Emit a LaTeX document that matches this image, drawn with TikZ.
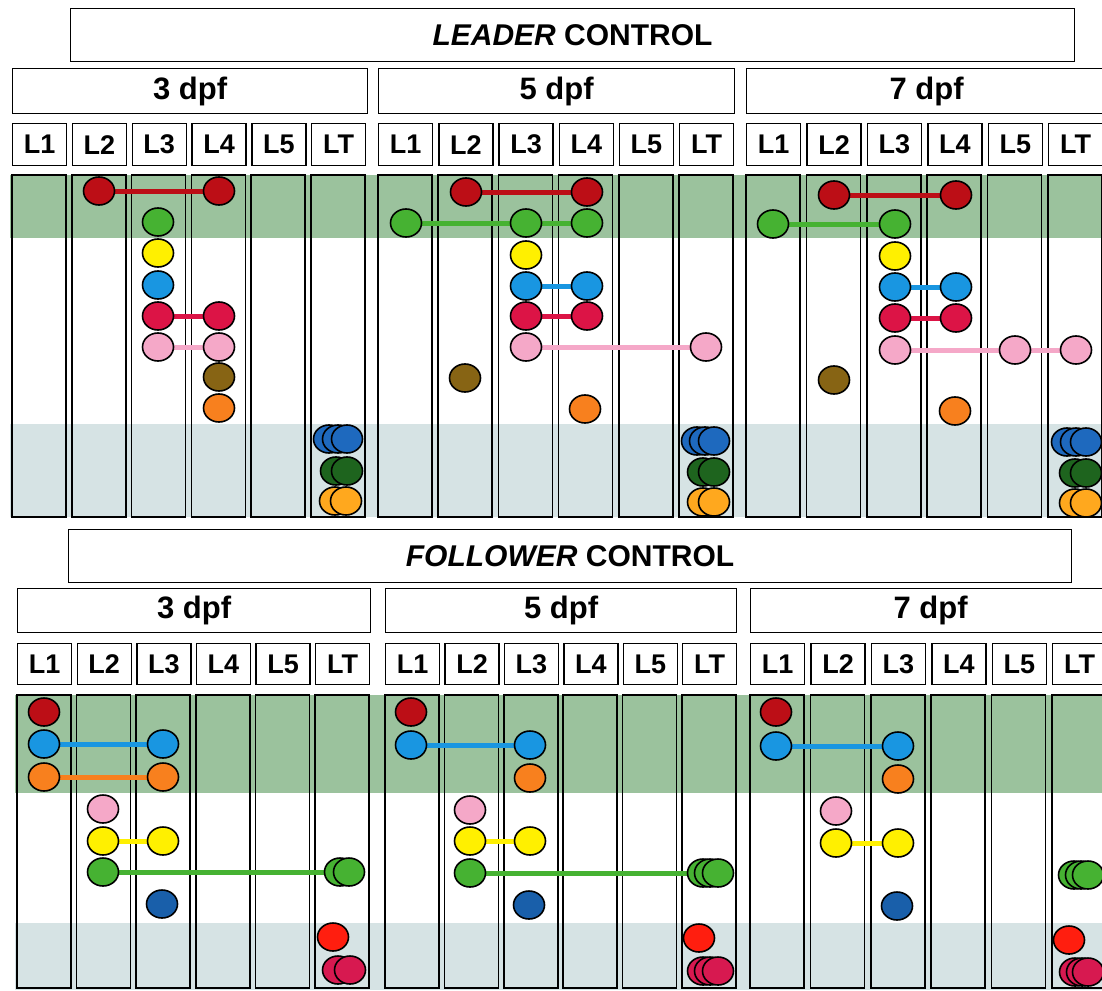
\documentclass[tikz,border=0pt]{standalone}
\usepackage{fontspec}
\setmainfont{Liberation Sans}
\usetikzlibrary{shapes.geometric}
\pgfdeclarelayer{back}
\pgfdeclarelayer{links}
\pgfsetlayers{back,links,main}
\definecolor{bandgreen}{RGB}{155,194,157}
\definecolor{bandgray}{RGB}{214,227,228}
\definecolor{cDkRed}{RGB}{188,14,22}
\definecolor{cGreen}{RGB}{70,178,50}
\definecolor{cYellow}{RGB}{255,240,0}
\definecolor{cBlue}{RGB}{25,150,225}
\definecolor{cCrimson}{RGB}{220,20,70}
\definecolor{cPink}{RGB}{245,168,200}
\definecolor{cBrown}{RGB}{135,100,20}
\definecolor{cOrange}{RGB}{248,128,30}
\definecolor{cLTBlue}{RGB}{30,105,190}
\definecolor{cDkGreen}{RGB}{30,100,30}
\definecolor{cLtOrange}{RGB}{255,168,30}
\definecolor{cDkBlue}{RGB}{25,95,170}
\definecolor{cRed}{RGB}{255,30,15}
\definecolor{cCrimsonB}{RGB}{215,25,80}
\newcommand\mkbead[4]{\node[bead, fill=#2] (#1) at (#3,#4) {};}
\newcommand\lnk[3]{\begin{pgfonlayer}{links}\draw[link, draw=#1] (#2.center) -- (#3.center);\end{pgfonlayer}}
\begin{document}
\begin{tikzpicture}[x=1pt,y=-1pt,
  titlebox/.style={draw, line width=1.1pt, fill=white, inner sep=0pt, anchor=north west,
    font=\fontsize{30}{30}\selectfont\bfseries},
  hdr/.style={draw, line width=1.3pt, fill=white, inner sep=0pt, anchor=north west,
    font=\fontsize{31}{31}\selectfont\bfseries},
  lbl/.style={draw, line width=1.3pt, fill=white, inner sep=0pt, anchor=north west,
    minimum width=54pt, font=\fontsize{27}{27}\selectfont\bfseries},
  colbox/.style={draw=black, line width=1.6pt},
  bead/.style={ellipse, draw=black, line width=1.6pt, minimum width=31pt, minimum height=28pt, inner sep=0pt},
  link/.style={line width=5pt}]
\useasboundingbox (0,0) rectangle (1102,990);
% titles
\node[titlebox, minimum width=1004pt, minimum height=53pt] (lead) at (70,8) {\textit{LEADER} CONTROL};
\node[titlebox, minimum width=1003pt, minimum height=53pt] (foll) at (68,529) {\textit{FOLLOWER} CONTROL};
% bands
\begin{pgfonlayer}{back}
\fill[bandgreen] (10,175) rectangle (1104,238);
\fill[bandgray] (10,424) rectangle (1104,517);
\fill[bandgreen] (15,695) rectangle (1104,793);
\fill[bandgray] (15,923) rectangle (1104,990);
\end{pgfonlayer}
% top groups
\foreach \g/\b/\p/\d/\hw in {t3/12/59.8/3/355,t5/378/60.2/5/356,t7/746/60.4/7/360}{
  \node[hdr, minimum width=\hw pt, minimum height=45pt] (\g h) at (\b,68) {\d\ dpf};
  \foreach \l [count=\i from 0] in {L1,L2,L3,L4,L5,LT}{
    \pgfmathsetmacro\xx{\b+\i*\p}
    \node[lbl, minimum height=42pt] (\g\l) at (\xx,123) {\l};
    \begin{pgfonlayer}{back}
    \draw[colbox] (\xx,175) rectangle ++(54,342);
    \end{pgfonlayer}
  }
}
% bottom groups
\foreach \g/\b/\p/\d/\hw in {b3/17/59.6/3/353,b5/385/59.4/5/351,b7/750/60.4/7/360}{
  \node[hdr, minimum width=\hw pt, minimum height=44pt] (\g h) at (\b,588) {\d\ dpf};
  \foreach \l [count=\i from 0] in {L1,L2,L3,L4,L5,LT}{
    \pgfmathsetmacro\xx{\b+\i*\p}
    \node[lbl, minimum height=41pt] (\g\l) at (\xx,643) {\l};
    \begin{pgfonlayer}{back}
    \draw[colbox] (\xx,695) rectangle ++(54,293);
    \end{pgfonlayer}
  }
}
% ---- top 3 dpf
\mkbead{ta1}{cDkRed}{99}{191}\mkbead{ta2}{cDkRed}{219}{191}\lnk{cDkRed}{ta1}{ta2}
\mkbead{ta3}{cGreen}{158}{222}
\mkbead{ta4}{cYellow}{158}{253}
\mkbead{ta5}{cBlue}{158}{285}
\mkbead{ta6}{cCrimson}{158}{316}\mkbead{ta7}{cCrimson}{219}{316}\lnk{cCrimson}{ta6}{ta7}
\mkbead{ta8}{cPink}{158}{347}\mkbead{ta9}{cPink}{219}{347}\lnk{cPink}{ta8}{ta9}
\mkbead{ta10}{cBrown}{219}{377}
\mkbead{ta11}{cOrange}{219}{408}
\mkbead{ta12}{cLTBlue}{329}{439}\mkbead{ta13}{cLTBlue}{338}{439}\mkbead{ta14}{cLTBlue}{347}{439}
\mkbead{ta15}{cDkGreen}{336}{471}\mkbead{ta16}{cDkGreen}{347}{471}
\mkbead{ta17}{cLtOrange}{335}{501}\mkbead{ta18}{cLtOrange}{346}{501}
% ---- top 5 dpf
\mkbead{tb1}{cDkRed}{466}{192}\mkbead{tb2}{cDkRed}{587}{192}\lnk{cDkRed}{tb1}{tb2}
\mkbead{tb3}{cGreen}{406}{223}\mkbead{tb4}{cGreen}{526}{223}\mkbead{tb5}{cGreen}{587}{223}\lnk{cGreen}{tb3}{tb5}
\mkbead{tb6}{cYellow}{526}{255}
\mkbead{tb7}{cBlue}{526}{286}\mkbead{tb8}{cBlue}{587}{286}\lnk{cBlue}{tb7}{tb8}
\mkbead{tb9}{cCrimson}{526}{316}\mkbead{tb10}{cCrimson}{587}{316}\lnk{cCrimson}{tb9}{tb10}
\mkbead{tb11}{cPink}{526}{347}\mkbead{tb12}{cPink}{706}{347}\lnk{cPink}{tb11}{tb12}
\mkbead{tb13}{cBrown}{465}{378}
\mkbead{tb14}{cOrange}{585}{409}
\mkbead{tb15}{cLTBlue}{697}{441}\mkbead{tb16}{cLTBlue}{705}{441}\mkbead{tb17}{cLTBlue}{714}{441}
\mkbead{tb18}{cDkGreen}{703}{472}\mkbead{tb19}{cDkGreen}{714}{472}
\mkbead{tb20}{cLtOrange}{703}{502}\mkbead{tb21}{cLtOrange}{714}{502}
% ---- top 7 dpf
\mkbead{tc1}{cDkRed}{834}{195}\mkbead{tc2}{cDkRed}{956}{195}\lnk{cDkRed}{tc1}{tc2}
\mkbead{tc3}{cGreen}{773}{224}\mkbead{tc4}{cGreen}{895}{224}\lnk{cGreen}{tc3}{tc4}
\mkbead{tc5}{cYellow}{895}{256}
\mkbead{tc6}{cBlue}{895}{287}\mkbead{tc7}{cBlue}{956}{287}\lnk{cBlue}{tc6}{tc7}
\mkbead{tc8}{cCrimson}{895}{318}\mkbead{tc9}{cCrimson}{956}{318}\lnk{cCrimson}{tc8}{tc9}
\mkbead{tc10}{cPink}{895}{350}\mkbead{tc11}{cPink}{1015}{350}\mkbead{tc12}{cPink}{1076}{350}\lnk{cPink}{tc10}{tc12}
\mkbead{tc13}{cBrown}{834}{380}
\mkbead{tc14}{cOrange}{955}{411}
\mkbead{tc15}{cLTBlue}{1067}{442}\mkbead{tc16}{cLTBlue}{1076}{442}\mkbead{tc17}{cLTBlue}{1086}{442}
\mkbead{tc18}{cDkGreen}{1075}{473}\mkbead{tc19}{cDkGreen}{1086}{473}
\mkbead{tc20}{cLtOrange}{1075}{503}\mkbead{tc21}{cLtOrange}{1086}{503}
% ---- bottom 3 dpf
\mkbead{ba1}{cDkRed}{44}{712}
\mkbead{ba2}{cBlue}{44}{744}\mkbead{ba3}{cBlue}{163}{744}\lnk{cBlue}{ba2}{ba3}
\mkbead{ba4}{cOrange}{44}{777}\mkbead{ba5}{cOrange}{163}{777}\lnk{cOrange}{ba4}{ba5}
\mkbead{ba6}{cPink}{103}{809}
\mkbead{ba7}{cYellow}{103}{841}\mkbead{ba8}{cYellow}{163}{841}\lnk{cYellow}{ba7}{ba8}
\mkbead{ba9}{cGreen}{103}{872}\mkbead{ba10}{cGreen}{340}{872}\mkbead{ba11}{cGreen}{349}{872}\lnk{cGreen}{ba9}{ba11}
\mkbead{ba12}{cDkBlue}{162}{904}
\mkbead{ba13}{cRed}{333}{937}
\mkbead{ba14}{cCrimsonB}{338}{970}\mkbead{ba15}{cCrimsonB}{350}{970}
% ---- bottom 5 dpf
\mkbead{bb1}{cDkRed}{411}{712}
\mkbead{bb2}{cBlue}{411}{745}\mkbead{bb3}{cBlue}{530}{745}\lnk{cBlue}{bb2}{bb3}
\mkbead{bb4}{cOrange}{530}{778}
\mkbead{bb5}{cPink}{470}{810}
\mkbead{bb6}{cYellow}{470}{841}\mkbead{bb7}{cYellow}{530}{841}\lnk{cYellow}{bb6}{bb7}
\mkbead{bb8}{cGreen}{470}{873}\mkbead{bb9}{cGreen}{703}{873}\mkbead{bb10}{cGreen}{710}{873}\mkbead{bb11}{cGreen}{718}{873}\lnk{cGreen}{bb8}{bb11}
\mkbead{bb12}{cDkBlue}{529}{905}
\mkbead{bb13}{cRed}{699}{938}
\mkbead{bb14}{cCrimsonB}{703}{971}\mkbead{bb15}{cCrimsonB}{710}{971}\mkbead{bb16}{cCrimsonB}{718}{971}
% ---- bottom 7 dpf
\mkbead{bc1}{cDkRed}{776}{712}
\mkbead{bc2}{cBlue}{776}{746}\mkbead{bc3}{cBlue}{898}{746}\lnk{cBlue}{bc2}{bc3}
\mkbead{bc4}{cOrange}{898}{779}
\mkbead{bc5}{cPink}{836}{811}
\mkbead{bc6}{cYellow}{836}{843}\mkbead{bc7}{cYellow}{898}{843}\lnk{cYellow}{bc6}{bc7}
\mkbead{bc8}{cDkBlue}{897}{906}
\mkbead{bc9}{cGreen}{1074}{875}\mkbead{bc10}{cGreen}{1081}{875}\mkbead{bc11}{cGreen}{1088}{875}
\mkbead{bc12}{cRed}{1069}{940}
\mkbead{bc13}{cCrimsonB}{1075}{972}\mkbead{bc14}{cCrimsonB}{1082}{972}\mkbead{bc15}{cCrimsonB}{1088}{972}
\end{tikzpicture}
\end{document}
